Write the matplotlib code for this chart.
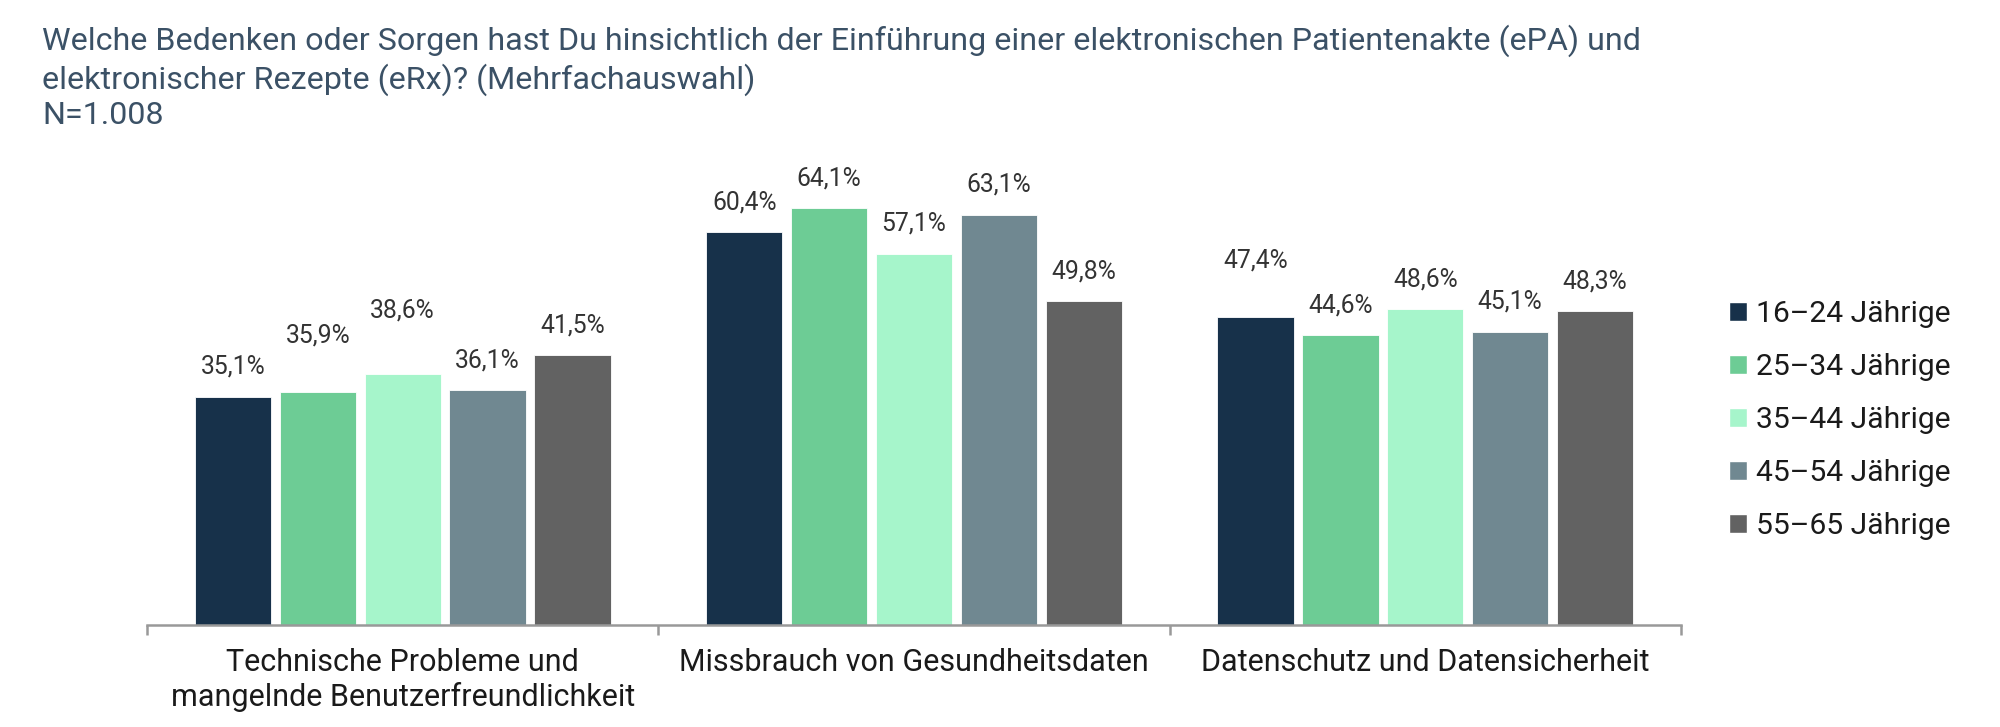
import numpy as np
import matplotlib.pyplot as plt
from matplotlib.patches import Patch

# Daten
kategorien = ["Technische Probleme und\nmangelnde Benutzerfreundlichkeit",
              "Missbrauch von Gesundheitsdaten",
              "Datenschutz und Datensicherheit"]
gruppen = ["16–24 Jährige", "25–34 Jährige", "35–44 Jährige",
           "45–54 Jährige", "55–65 Jährige"]
werte_16_24 = [35.1, 60.4, 47.4]
werte_25_34 = [35.9, 64.1, 44.6]
werte_35_44 = [38.6, 57.1, 48.6]
werte_45_54 = [36.1, 63.1, 45.1]
werte_55_65 = [41.5, 49.8, 48.3]
serien = [werte_16_24, werte_25_34, werte_35_44, werte_45_54, werte_55_65]

farben = ["#17314a", "#6dcc95", "#a6f5cb", "#708891", "#626262"]
# extra Abstand der Beschriftung (in Punkten) wo sich Labels sonst überlappen
anhebung = {(1, 0): 19, (2, 0): 24, (0, 2): 19}

titel = ("Welche Bedenken oder Sorgen hast Du hinsichtlich der Einführung einer elektronischen Patientenakte (ePA) und\n"
         "elektronischer Rezepte (eRx)? (Mehrfachauswahl)\nN=1.008")

plt.rcParams['font.family'] = ["Roboto", "DejaVu Sans"]

fig = plt.figure(figsize=(20, 7.27), dpi=100)
ax = fig.add_axes([0.0735, 0.1403, 0.767, 0.626])

x = np.arange(len(kategorien))
schritt = 0.166
breite = 0.149
for i, (werte, farbe) in enumerate(zip(serien, farben)):
    pos = x + (i - 2) * schritt
    bars = ax.bar(pos, werte, width=breite, color=farbe, edgecolor="white",
                  linewidth=0.6, label=gruppen[i])
    for j, (b, v) in enumerate(zip(bars, werte)):
        extra = anhebung.get((i, j), 0)
        ax.annotate(f"{v:.1f}%".replace(".", ","),
                    (b.get_x() + b.get_width() / 2, v),
                    xytext=(0, 21.5 + extra), textcoords="offset points",
                    ha="center", va="center", fontsize=17.8, color="#333333")

ax.set_xlim(-0.5, 2.5)
ax.set_ylim(0, 70)
for s in ["top", "right", "left"]:
    ax.spines[s].set_visible(False)
ax.spines["bottom"].set_color("#999999")
ax.spines["bottom"].set_linewidth(1.8)
ax.set_yticks([])
ax.set_xticks([-0.5, 0.5, 1.5, 2.5])
ax.set_xticklabels([])
ax.tick_params(axis="x", length=7, width=1.8, color="#999999", direction="out")
for xi, kat in zip(x, kategorien):
    ax.text(xi, -0.05, kat, transform=ax.get_xaxis_transform(), ha="center",
            va="top", fontsize=22, color="#1a1a1a", linespacing=1.2)

fig.text(0.021, 0.966, titel, ha="left", va="top", fontsize=23.2,
         color="#3b5166", linespacing=1.23)

handles = [Patch(facecolor=f, edgecolor="white") for f in farben]
fig.legend(handles, gruppen, loc="center left", bbox_to_anchor=(0.851, 0.422),
           frameon=False, fontsize=21.6, handlelength=0.6, handleheight=0.6,
           handletextpad=0.3, labelspacing=0.83, labelcolor="#1a1a1a")

fig.savefig("out.png", dpi=100, facecolor="white")
